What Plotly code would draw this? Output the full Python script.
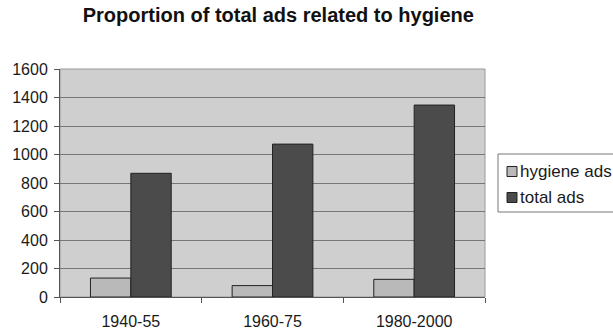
import plotly.graph_objects as go

categories = ["1940-55", "1960-75", "1980-2000"]
hygiene_ads = [133, 80, 124]
total_ads = [868, 1073, 1347]
y_ticks = [0, 200, 400, 600, 800, 1000, 1200, 1400, 1600]
series_names = ["hygiene ads", "total ads"]
series_colors = ["#b9b9b9", "#4b4b4b"]

fig = go.Figure()
for name, vals, col in zip(series_names, [hygiene_ads, total_ads], series_colors):
    fig.add_trace(go.Bar(name=name, x=categories, y=vals,
                         marker=dict(color=col, line=dict(color="#222222", width=1))))

L, R, T, B = 60, 485, 69, 297
W, H = R - L, B - T

def px(x):
    return (x - L) / W

def py(y):
    return (B - y) / H

fig.update_layout(
    width=613, height=332,
    margin=dict(l=L, r=613 - R, t=T, b=332 - B, autoexpand=False),
    paper_bgcolor="white",
    plot_bgcolor="#cfcfcf",
    barmode="group",
    bargap=0.43,
    bargroupgap=0,
    font=dict(family="Liberation Sans, Arial, sans-serif", size=16, color="#1a1a1a"),
    title=dict(text="<b>Proportion of total ads related to hygiene</b>",
               x=0.454, xanchor="center", y=1 - 15 / 332, yanchor="middle",
               font=dict(size=20, color="#111111")),
    showlegend=False,
)
fig.update_xaxes(showline=True, linecolor="#555555", linewidth=1,
                 ticks="outside", tickson="boundaries", ticklen=5, tickcolor="#555555",
                 showgrid=False, automargin=False, ticklabelstandoff=10)
fig.update_yaxes(range=[0, 1600], tickvals=y_ticks, showline=True, linecolor="#555555",
                 linewidth=1, ticks="outside", ticklen=5, tickcolor="#555555",
                 gridcolor="#777777", gridwidth=1, zeroline=False, automargin=False,
                 ticklabelstandoff=3)
# plot area outline
fig.add_shape(type="rect", xref="paper", yref="paper", x0=0, y0=0, x1=1, y1=1,
              line=dict(color="#999999", width=1), layer="below")

# legend box drawn manually (cut off at right edge like the reference)
fig.add_shape(type="rect", xref="paper", yref="paper",
              x0=px(498), x1=px(640), y0=py(212), y1=py(154),
              line=dict(color="#777777", width=1), fillcolor="white")
row_centers = [171.5, 197.5]
for name, col, yc in zip(series_names, series_colors, row_centers):
    fig.add_shape(type="rect", xref="paper", yref="paper",
                  x0=px(507), x1=px(517), y0=py(yc + 5), y1=py(yc - 5),
                  line=dict(color="#222222", width=1), fillcolor=col)
    fig.add_annotation(text=name, xref="paper", yref="paper", x=px(518), y=py(yc),
                       xanchor="left", yanchor="middle", showarrow=False,
                       font=dict(size=17, color="#1a1a1a"))

fig.write_html("out.html")
